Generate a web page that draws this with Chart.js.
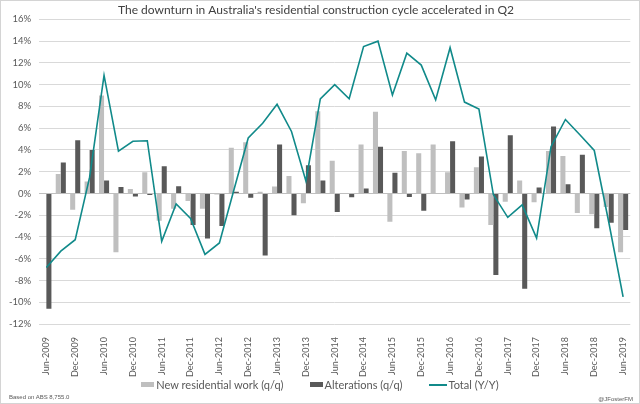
<!DOCTYPE html>
<html>
<head>
<meta charset="utf-8">
<script src="https://cdn.jsdelivr.net/npm/chart.js@4.4.1/dist/chart.umd.min.js"></script>
<style>
  html, body { margin: 0; padding: 0; background: #fff; }
  #wrap { position: relative; width: 640px; height: 404px; box-sizing: border-box; border: 1px solid #d4d4d4; }
  #chart { display: block; }
  .note { position: absolute; font-family: "Liberation Sans", Arial, sans-serif; font-size: 6px; color: #595959; }
  #legend { position: absolute; left: 0; right: 0; top: 377px; display: flex; justify-content: center; align-items: center;
            font-family: Lato, "Open Sans", sans-serif; font-size: 11px; color: #595959; }
  #legend .item { display: flex; align-items: center; margin: 0 13px; }
  #legend .sw { display: inline-block; width: 13px; height: 5px; margin-right: 2px; }
  #legend .ln { display: inline-block; width: 18px; height: 2px; margin-right: 2px; }
</style>
</head>
<body>
<div id="wrap">
  <canvas id="chart" width="638" height="402"></canvas>
  <div id="legend"></div>
  <div class="note" style="left:8px; top:393px;">Based on ABS 8,755.0</div>
  <div class="note" style="right:6px; top:395px;">@JFosterFM</div>
</div>
<script>
// Quarterly, Jun-2009 .. Jun-2019
const quarters = [
  "Jun-2009","Sep-2009","Dec-2009","Mar-2010","Jun-2010","Sep-2010","Dec-2010","Mar-2011",
  "Jun-2011","Sep-2011","Dec-2011","Mar-2012","Jun-2012","Sep-2012","Dec-2012","Mar-2013",
  "Jun-2013","Sep-2013","Dec-2013","Mar-2014","Jun-2014","Sep-2014","Dec-2014","Mar-2015",
  "Jun-2015","Sep-2015","Dec-2015","Mar-2016","Jun-2016","Sep-2016","Dec-2016","Mar-2017",
  "Jun-2017","Sep-2017","Dec-2017","Mar-2018","Jun-2018","Sep-2018","Dec-2018","Mar-2019",
  "Jun-2019"
];

// New residential work, % q/q
const newResidential = [
  0, 1.8, -1.5, 1.1, 9.0, -5.4, 0.4, 1.95,
  -2.5, -1.4, -0.7, -1.4, -0.1, 4.2, 4.7, 0.15,
  0.65, 1.6, -0.9, 7.55, 3.0, -0.05, 4.5, 7.5,
  -2.6, 3.9, 3.7, 4.5, 1.95, -1.3, 2.4, -2.9,
  -0.75, 1.2, -0.8, 3.9, 3.45, -1.8, -1.9, -1.25,
  -5.4
];

// Alterations, % q/q
const alterations = [
  -10.6, 2.85, 4.9, 4.0, 1.2, 0.6, -0.27, -0.15,
  2.5, 0.67, -2.9, -4.15, -3.0, 0.15, -0.4, -5.7,
  4.5, -2.0, 2.6, 1.2, -1.7, -0.35, 0.45, 4.3,
  1.9, -0.33, -1.6, -0.05, 4.8, -0.55, 3.4, -7.5,
  5.35, -8.75, 0.55, 6.15, 0.85, 3.55, -3.2, -2.7,
  -3.35
];

// Total, % y/y
const totalYY = [
  -6.8, -5.3, -4.25, 1.5, 10.85, 3.9, 4.8, 4.85,
  -4.4, -0.97, -2.3, -5.6, -4.55, 0.3, 5.1, 6.45,
  8.2, 5.7, 1.15, 8.7, 10.0, 8.7, 13.5, 14.0,
  9.05, 12.9, 11.8, 8.6, 13.4, 8.4, 7.75, -0.1,
  -2.2, -1.05, -4.1, 4.3, 6.8, 5.4, 3.95, -2.6,
  -9.5
];

const yMin = -12, yMax = 16, yStep = 2;

const FONT = "Lato, 'Open Sans', sans-serif";
const LIGHT = "#bfbfbf", DARK = "#595959", TEAL = "#118a8a";

const chart = new Chart(document.getElementById("chart").getContext("2d"), {
  type: "bar",
  data: {
    labels: quarters,
    datasets: [
      { label: "New residential work (q/q)", data: newResidential, backgroundColor: LIGHT, borderWidth: 0, order: 2 },
      { label: "Alterations (q/q)", data: alterations, backgroundColor: DARK, borderWidth: 0, order: 2 },
      {
        type: "line",
        label: "Total (Y/Y)",
        data: totalYY,
        borderColor: TEAL,
        backgroundColor: TEAL,
        borderWidth: 1.6,
        pointRadius: 0,
        tension: 0,
        order: 1
      }
    ]
  },
  options: {
    responsive: false,
    animation: false,
    layout: { padding: { left: 0, right: 8, top: 0, bottom: 21 } },
    datasets: {
      bar: { barPercentage: 1.0, categoryPercentage: 0.7 }
    },
    scales: {
      x: {
        grid: { display: false },
        border: { display: false },
        ticks: {
          autoSkip: false,
          minRotation: 90,
          maxRotation: 90,
          padding: 5,
          color: DARK,
          font: { family: FONT, size: 9 },
          callback: (v, i) => (i % 2 === 0 ? quarters[i] : "")
        }
      },
      y: {
        min: yMin,
        max: yMax,
        border: { display: false },
        grid: {
          drawTicks: false,
          color: (c) => (c.tick && c.tick.value === 0 ? "#bfbfbf" : "#d9d9d9"),
          lineWidth: 1
        },
        ticks: {
          stepSize: yStep,
          padding: 8,
          color: DARK,
          font: { family: FONT, size: 9.5 },
          callback: (v) => `${v}%`
        }
      }
    },
    plugins: {
      title: {
        display: true,
        text: "The downturn in Australia's residential construction cycle accelerated in Q2",
        color: "#404040",
        font: { family: FONT, size: 12, weight: "normal" },
        padding: { top: 2, bottom: 2 }
      },
      legend: { display: false },
      tooltip: { enabled: false }
    }
  }
});

// HTML legend built from the chart's datasets
const legendEl = document.getElementById("legend");
chart.data.datasets.forEach(ds => {
  const item = document.createElement("span");
  item.className = "item";
  const mark = document.createElement("span");
  mark.className = ds.type === "line" ? "ln" : "sw";
  mark.style.background = ds.type === "line" ? ds.borderColor : ds.backgroundColor;
  const txt = document.createElement("span");
  txt.textContent = ds.label;
  item.appendChild(mark);
  item.appendChild(txt);
  legendEl.appendChild(item);
});
</script>
</body>
</html>
